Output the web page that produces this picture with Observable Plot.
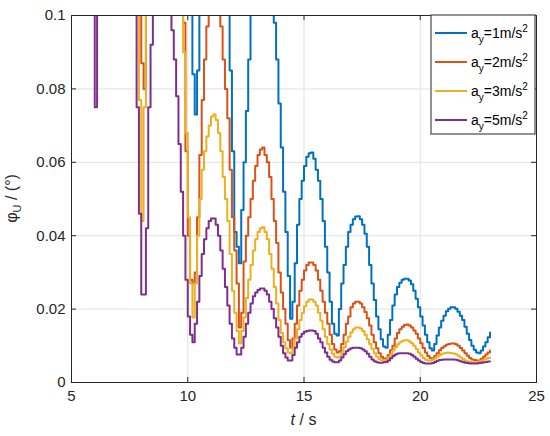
<!DOCTYPE html>
<html>
<head>
<meta charset="utf-8">
<script src="https://cdn.jsdelivr.net/npm/d3@7"></script>
<script src="https://cdn.jsdelivr.net/npm/@observablehq/plot@0.6"></script>
<style>
  html, body { margin: 0; padding: 0; background: #fff; }
  #chart { width: 550px; height: 436px; }
</style>
</head>
<body>
<div id="chart"></div>
<script>
// sampling grid of the stair-step curves (s)
const tStart = 5.8;
const tStep = 0.1;

// series names, colours
const seriesNames = ["a_y=1m/s^2", "a_y=2m/s^2", "a_y=3m/s^2", "a_y=5m/s^2"];
const seriesNums = ["1", "2", "3", "5"];
const seriesColors = ["#0072BD", "#D95319", "#EDB120", "#7E2F8E"];

// phi_U values (deg), one per 0.1 s from 5.8 s to 23.0 s
// (values above 0.1 are off the top of the axes)
const ay1 = [
  0.15, 0.15,
  0.15, 0.15, 0.15, 0.15, 0.15, 0.15, 0.15, 0.15, 0.15, 0.15,
  0.15, 0.15, 0.15, 0.15, 0.15, 0.15, 0.15, 0.15, 0.15, 0.15,
  0.15, 0.15, 0.15, 0.15, 0.15, 0.15, 0.15, 0.15, 0.15, 0.15,
  0.15, 0.15, 0.15, 0.15, 0.15, 0.15, 0.15, 0.15, 0.15, 0.15,
  0.15, 0.15, 0.084, 0.073, 0.085, 0.15, 0.15, 0.15, 0.15, 0.15,
  0.15, 0.15, 0.15, 0.15, 0.15, 0.15, 0.15, 0.15, 0.085, 0.063,
  0.041, 0.037, 0.0325, 0.047, 0.060, 0.074, 0.088, 0.15, 0.15, 0.15,
  0.15, 0.15, 0.15, 0.15, 0.15, 0.15, 0.15, 0.098, 0.088, 0.076,
  0.064, 0.052, 0.041, 0.029, 0.0174, 0.022, 0.0325, 0.043, 0.050, 0.055,
  0.059, 0.0615, 0.0625, 0.0627, 0.061, 0.058, 0.055, 0.050, 0.044, 0.037,
  0.030, 0.022, 0.016, 0.0133, 0.0128, 0.020, 0.027, 0.032, 0.037, 0.041,
  0.043, 0.0445, 0.0452, 0.0453, 0.0445, 0.043, 0.0405, 0.037, 0.032, 0.027,
  0.0225, 0.018, 0.0145, 0.0118, 0.0098, 0.0095, 0.013, 0.017, 0.021, 0.024,
  0.026, 0.0272, 0.028, 0.0283, 0.0283, 0.0278, 0.0268, 0.025, 0.0228, 0.0205,
  0.018, 0.0155, 0.013, 0.011, 0.0093, 0.0087, 0.0105, 0.0128, 0.015, 0.0168,
  0.0182, 0.0194, 0.0201, 0.0205, 0.0205, 0.0201, 0.0193, 0.0182, 0.017, 0.0152,
  0.0133, 0.0116, 0.010, 0.0089, 0.0082, 0.008, 0.0087, 0.0098, 0.011, 0.0123,
  0.0136
];
const ay2 = [
  0.15, 0.15,
  0.15, 0.15, 0.15, 0.15, 0.15, 0.15, 0.15, 0.15, 0.15, 0.15,
  0.15, 0.15, 0.15, 0.15, 0.15, 0.15, 0.15, 0.15, 0.15, 0.15,
  0.087, 0.080, 0.15, 0.15, 0.15, 0.15, 0.15, 0.15, 0.15, 0.15,
  0.15, 0.15, 0.15, 0.15, 0.15, 0.15, 0.15, 0.15, 0.098, 0.063,
  0.040, 0.028, 0.027, 0.030, 0.045, 0.062, 0.077, 0.088, 0.097, 0.105,
  0.110, 0.110, 0.106, 0.101, 0.097, 0.088, 0.080, 0.072, 0.058, 0.045,
  0.036, 0.027, 0.015, 0.019, 0.033, 0.040, 0.045, 0.050, 0.055, 0.059,
  0.062, 0.0635, 0.064, 0.062, 0.060, 0.056, 0.050, 0.044, 0.038, 0.030,
  0.0245, 0.020, 0.016, 0.0115, 0.0095, 0.012, 0.016, 0.021, 0.025, 0.028,
  0.0305, 0.032, 0.0327, 0.0327, 0.032, 0.0305, 0.028, 0.025, 0.022, 0.019,
  0.016, 0.013, 0.0105, 0.009, 0.0082, 0.0085, 0.0105, 0.013, 0.016, 0.018,
  0.0205, 0.0215, 0.022, 0.022, 0.0215, 0.0205, 0.0192, 0.0175, 0.0155, 0.013,
  0.011, 0.0093, 0.008, 0.007, 0.0065, 0.0066, 0.0075, 0.0088, 0.010, 0.012,
  0.0135, 0.0145, 0.0152, 0.0157, 0.0158, 0.0155, 0.015, 0.0142, 0.0133, 0.012,
  0.0107, 0.0094, 0.0082, 0.0072, 0.0066, 0.0066, 0.0072, 0.008, 0.0088, 0.0094,
  0.0099, 0.0103, 0.0105, 0.0106, 0.0106, 0.0104, 0.010, 0.0094, 0.0087, 0.008,
  0.0073, 0.0067, 0.0063, 0.0061, 0.006, 0.006, 0.0065, 0.007, 0.0076, 0.0082,
  0.0087
];
const ay3 = [
  0.15, 0.15,
  0.15, 0.15, 0.15, 0.15, 0.15, 0.15, 0.15, 0.15, 0.15, 0.15,
  0.15, 0.15, 0.15, 0.15, 0.15, 0.15, 0.15, 0.15, 0.15, 0.077,
  0.044, 0.075, 0.15, 0.15, 0.15, 0.15, 0.15, 0.15, 0.15, 0.15,
  0.15, 0.15, 0.15, 0.15, 0.15, 0.15, 0.15, 0.15, 0.090, 0.068,
  0.045, 0.027, 0.0177, 0.027, 0.040, 0.050, 0.058, 0.063, 0.067, 0.070,
  0.0725, 0.073, 0.0715, 0.068, 0.063, 0.056, 0.050, 0.044, 0.035, 0.025,
  0.019, 0.014, 0.0106, 0.014, 0.0177, 0.023, 0.028, 0.032, 0.036, 0.039,
  0.041, 0.042, 0.0423, 0.041, 0.039, 0.035, 0.031, 0.026, 0.0215, 0.017,
  0.0135, 0.011, 0.0093, 0.0082, 0.008, 0.0095, 0.012, 0.0145, 0.017, 0.019,
  0.0208, 0.022, 0.0226, 0.0226, 0.022, 0.021, 0.019, 0.0168, 0.0145, 0.0125,
  0.0105, 0.009, 0.0078, 0.007, 0.0068, 0.007, 0.0082, 0.0097, 0.0112, 0.0125,
  0.0137, 0.0145, 0.015, 0.015, 0.0147, 0.014, 0.013, 0.0118, 0.0105, 0.0092,
  0.008, 0.007, 0.0064, 0.0061, 0.006, 0.0062, 0.0068, 0.0077, 0.0087, 0.0096,
  0.0104, 0.011, 0.0113, 0.0115, 0.0115, 0.0112, 0.0107, 0.010, 0.0091, 0.0082,
  0.0074, 0.0067, 0.0062, 0.006, 0.006, 0.0062, 0.0066, 0.0071, 0.0075, 0.0078,
  0.008, 0.0081, 0.0081, 0.008, 0.0079, 0.0077, 0.0073, 0.0068, 0.0064, 0.006,
  0.0057, 0.0056, 0.0055, 0.0055, 0.0055, 0.0057, 0.0059, 0.0062, 0.0065, 0.0067,
  0.0068
];
const ay5 = [
  0.15, 0.15,
  0.075, 0.15, 0.15, 0.15, 0.15, 0.15, 0.15, 0.15, 0.15, 0.15,
  0.15, 0.15, 0.15, 0.15, 0.15, 0.15, 0.15, 0.15, 0.075, 0.046,
  0.024, 0.024, 0.042, 0.075, 0.092, 0.15, 0.15, 0.15, 0.15, 0.15,
  0.15, 0.15, 0.15, 0.096, 0.088, 0.078, 0.065, 0.052, 0.040, 0.028,
  0.018, 0.013, 0.011, 0.016, 0.022, 0.029, 0.035, 0.039, 0.042, 0.044,
  0.0447, 0.0447, 0.043, 0.040, 0.036, 0.031, 0.026, 0.021, 0.016, 0.012,
  0.0095, 0.0076, 0.0076, 0.0095, 0.0125, 0.016, 0.019, 0.0215, 0.0235, 0.0245,
  0.0252, 0.0256, 0.0256, 0.025, 0.024, 0.022, 0.020, 0.0175, 0.015, 0.0125,
  0.010, 0.008, 0.0068, 0.006, 0.006, 0.0075, 0.0095, 0.011, 0.0125, 0.0133,
  0.0138, 0.014, 0.0142, 0.0142, 0.014, 0.0133, 0.012, 0.011, 0.0095, 0.0082,
  0.007, 0.0062, 0.0057, 0.0055, 0.0055, 0.006, 0.0068, 0.0077, 0.0085, 0.009,
  0.0093, 0.0095, 0.0095, 0.0095, 0.0093, 0.009, 0.0085, 0.0078, 0.007, 0.0063,
  0.0058, 0.0055, 0.0054, 0.0054, 0.0055, 0.0056, 0.006, 0.0066, 0.0072, 0.0076,
  0.0079, 0.008, 0.008, 0.008, 0.008, 0.0078, 0.0075, 0.007, 0.0065, 0.006,
  0.0056, 0.0053, 0.0052, 0.0052, 0.0052, 0.0053, 0.0056, 0.0059, 0.0061, 0.0062,
  0.0063, 0.0063, 0.0063, 0.0063, 0.0063, 0.0062, 0.006, 0.0058, 0.0056, 0.0054,
  0.0053, 0.0052, 0.0052, 0.0052, 0.0052, 0.0053, 0.0054, 0.0055, 0.0056, 0.0057,
  0.0057
];

// axis ticks
const xTicks = [5, 10, 15, 20, 25];
const yTicks = [0, 0.02, 0.04, 0.06, 0.08, 0.1];

// build long table
const seriesValues = [ay1, ay2, ay3, ay5];
const rows = [];
seriesValues.forEach((vals, k) => {
  vals.forEach((v, i) => {
    rows.push({t: +(tStart + i * tStep).toFixed(1), v, s: seriesNames[k]});
  });
});

const W = 550, H = 436;
const mL = 71, mR = 14, mT = 15, mB = 54;
const innerW = W - mL - mR, innerH = H - mT - mB;
const tickLen = 5;
const axisColor = "#262626";
const font = "'Liberation Sans', Arial, Helvetica, sans-serif";

const chart = Plot.plot({
  width: W,
  height: H,
  marginLeft: mL,
  marginRight: mR,
  marginTop: mT,
  marginBottom: mB,
  style: {background: "#fff", fontFamily: font, fontSize: "14px", color: axisColor},
  x: {domain: [5, 25]},
  y: {domain: [0, 0.1]},
  color: {domain: seriesNames, range: seriesColors},
  marks: [
    Plot.ruleX(xTicks.slice(1, -1), {stroke: "#e0e0e0", strokeWidth: 1}),
    Plot.ruleY(yTicks.slice(1, -1), {stroke: "#e0e0e0", strokeWidth: 1}),
    Plot.line(rows, {x: "t", y: "v", z: "s", stroke: "s", curve: "step-after", strokeWidth: 2, clip: true}),
    Plot.tickX(xTicks, {x: d => d, insetTop: innerH - tickLen, stroke: axisColor}),
    Plot.tickX(xTicks, {x: d => d, insetBottom: innerH - tickLen, stroke: axisColor}),
    Plot.tickY(yTicks, {y: d => d, insetRight: innerW - tickLen, stroke: axisColor}),
    Plot.tickY(yTicks, {y: d => d, insetLeft: innerW - tickLen, stroke: axisColor}),
    Plot.frame({stroke: axisColor, strokeWidth: 1}),
    Plot.axisX(xTicks, {tickSize: 0, tickPadding: 8, label: null, fontSize: 15, tickFormat: d => String(d)}),
    Plot.axisY(yTicks, {tickSize: 0, tickPadding: 6, label: null, fontSize: 15, tickFormat: d => String(d)})
  ]
});

document.getElementById("chart").appendChild(chart);

// axis titles with sub/superscripts
const svg = d3.select(chart);
const yl = svg.append("text")
  .attr("transform", `translate(17,${mT + innerH / 2}) rotate(-90)`)
  .attr("text-anchor", "middle")
  .attr("font-family", font)
  .attr("font-size", 16)
  .attr("fill", axisColor);
yl.append("tspan").text("\u03C6");
yl.append("tspan").attr("font-size", 11).attr("dy", 4).text("U");
yl.append("tspan").attr("dy", -4).text(" / (\u00B0)");

const xl = svg.append("text")
  .attr("x", mL + innerW / 2)
  .attr("y", 425)
  .attr("text-anchor", "middle")
  .attr("font-family", font)
  .attr("font-size", 16)
  .attr("fill", axisColor);
xl.append("tspan").attr("font-style", "italic").text("t");
xl.append("tspan").text(" / s");

// legend
const lg = svg.append("g").attr("text-anchor", "start");
const lgX = 431, lgY = 15, lgW = 104, lgH = 119;
lg.append("rect")
  .attr("x", lgX).attr("y", lgY).attr("width", lgW).attr("height", lgH)
  .attr("fill", "#fff").attr("stroke", "#4a4a4a").attr("stroke-width", 1.2);
seriesNames.forEach((name, k) => {
  const cy = 33 + k * 29;
  lg.append("line")
    .attr("x1", lgX + 4).attr("x2", lgX + 36)
    .attr("y1", cy).attr("y2", cy)
    .attr("stroke", seriesColors[k]).attr("stroke-width", 2);
  const tx = lg.append("text")
    .attr("x", lgX + 40).attr("y", cy + 5)
    .attr("text-anchor", "start")
    .attr("font-family", font).attr("font-size", 14).attr("fill", "#000");
  tx.append("tspan").text("a");
  tx.append("tspan").attr("font-size", 10).attr("dy", 5).text("y");
  tx.append("tspan").attr("dy", -5).text(`=${seriesNums[k]}m/s`);
  tx.append("tspan").attr("font-size", 10).attr("dy", -6).text("2");
});
</script>
</body>
</html>
